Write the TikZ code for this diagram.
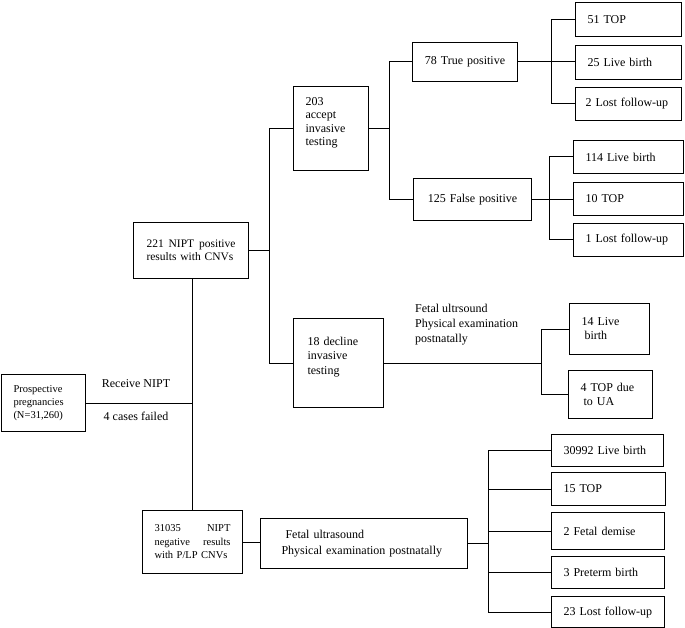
\documentclass[tikz,border=0pt]{standalone}
\usepackage{fontspec}
\setmainfont{Liberation Serif}
\begin{document}
\begin{tikzpicture}[x=1pt,y=-1pt,
  bx/.style={draw, line width=1pt, rectangle, anchor=north west, inner ysep=0pt,
    font=\fontsize{12}{14}\selectfont},
  ln/.style={line width=1pt},
  lbl/.style={font=\fontsize{12}{15}\selectfont, inner sep=0pt}]
\useasboundingbox (0,0) rectangle (685,628);

% left
\node[bx, minimum width=84pt, minimum height=57pt, inner xsep=12pt, text width=60pt, align=left,
  font=\fontsize{10.5}{13}\selectfont] (pp) at (1,374) {Prospective\\pregnancies\\(N=31,260)};
\node[lbl] (rn) at (136,384) {Receive NIPT};
\node[lbl] (cf) at (136,416) {4 cases failed};

% 221 box
\node[bx, minimum width=115pt, minimum height=56pt, inner xsep=13pt, text width=89pt, align=left,
  font=\fontsize{11.5}{13}\selectfont] (n221) at (133,222) {221\hfill NIPT\hfill positive\\results with CNVs};

% 203 and 18
\node[bx, minimum width=75pt, minimum height=84pt, inner xsep=12pt, text width=51pt, align=left,
  font=\fontsize{12}{13.5}\selectfont] (n203) at (293,86) {203\\accept\\invasive\\testing\\\mbox{}};
\node[bx, minimum width=90pt, minimum height=89pt, inner xsep=14pt, text width=62pt, align=left,
  font=\fontsize{12}{14.5}\selectfont] (n18) at (293,318) {18 decline\\invasive\\testing\\\mbox{}};

% true/false positive
\node[bx, minimum width=105pt, minimum height=39pt, inner xsep=4pt, text width=97pt, align=center] (ntp) at (412,42) {78 True positive};
\node[bx, minimum width=118pt, minimum height=42pt, inner xsep=4pt, text width=110pt, align=center] (nfp) at (413,178) {125 False positive};

% top right
\node[bx, minimum width=106pt, minimum height=34pt, inner xsep=10pt, text width=86pt, align=left] (n51) at (575,2) {\hspace*{2pt}51 TOP};
\node[bx, minimum width=106pt, minimum height=34pt, inner xsep=10pt, text width=86pt, align=left] (n25) at (575,45) {\hspace*{2pt}25 Live birth};
\node[bx, minimum width=106pt, minimum height=33pt, inner xsep=10pt, text width=86pt, align=left] (n2l) at (575,87) {\mbox{2 Lost follow-up}};

% middle right
\node[bx, minimum width=110pt, minimum height=33pt, inner xsep=10pt, text width=90pt, align=left] (n114) at (573,140) {\hspace*{2pt}114 Live birth};
\node[bx, minimum width=110pt, minimum height=33pt, inner xsep=10pt, text width=90pt, align=left] (n10) at (573,182) {\hspace*{2pt}10 TOP};
\node[bx, minimum width=110pt, minimum height=33pt, inner xsep=10pt, text width=90pt, align=left] (n1l) at (573,223) {\mbox{\hspace*{2pt}1 Lost follow-up}};

% decline group
\node[lbl, anchor=north west, align=left] (fus) at (415,304) {Fetal ultrsound\\Physical examination\\postnatally};
\node[bx, minimum width=80pt, minimum height=51pt, inner xsep=12pt, text width=56pt, align=left] (n14) at (569,303) {14 Live\\\hspace*{3pt}birth};
\node[bx, minimum width=84pt, minimum height=48pt, inner xsep=12pt, text width=60pt, align=left] (n4) at (568,370) {4 TOP due\\\hspace*{3pt}to UA};

% bottom
\node[bx, minimum width=100pt, minimum height=63pt, inner xsep=12pt, text width=76pt, align=left,
  font=\fontsize{10.5}{13.5}\selectfont] (n31035) at (142,510) {31035\hfill NIPT\\negative\hfill results\\with P/LP CNVs};
\node[bx, minimum width=207pt, minimum height=50pt, inner xsep=21pt, text width=165pt, align=left,
  font=\fontsize{12}{16}\selectfont] (nfu) at (260,518) {\hspace*{4pt}Fetal ultrasound\\Physical examination postnatally};

\node[bx, minimum width=112pt, minimum height=32pt, inner xsep=12pt, text width=88pt, align=left] (n30992) at (551,434) {30992 Live birth};
\node[bx, minimum width=114pt, minimum height=33pt, inner xsep=12pt, text width=90pt, align=left] (n15) at (551,472) {15 TOP};
\node[bx, minimum width=113pt, minimum height=37pt, inner xsep=12pt, text width=89pt, align=left] (nfd) at (551,512) {2 Fetal demise};
\node[bx, minimum width=113pt, minimum height=32pt, inner xsep=12pt, text width=89pt, align=left] (npt) at (551,556) {\\[-6pt]3 Preterm birth};
\node[bx, minimum width=113pt, minimum height=31pt, inner xsep=12pt, text width=89pt, align=left] (nlf) at (551,596) {\\[-4pt]23 Lost follow-up};

% junction coordinates
\coordinate (j1) at (192,403);
\coordinate (j2) at (269,0);
\coordinate (j3) at (389,0);
\coordinate (j4) at (551,0);
\coordinate (j5) at (549,0);
\coordinate (j6) at (541,0);
\coordinate (j7) at (488,0);

% connectors
\draw[ln] (pp.east) -- (pp.east -| j1);
\draw[ln] (j1 |- n221.south) -- (j1 |- n31035.north);

\draw[ln] (n221.east) -- (n221.east -| j2);
\draw[ln] (n203.west) -- (n203.west -| j2) -- (n18.west -| j2) -- (n18.west);

\draw[ln] (n203.east) -- (n203.east -| j3);
\draw[ln] (ntp.west) -- (ntp.west -| j3) -- (nfp.west -| j3) -- (nfp.west);

\draw[ln] (ntp.east) -- (ntp.east -| n25.west);
\draw[ln] (n51.west) -- (n51.west -| j4) -- (n2l.west -| j4) -- (n2l.west);

\draw[ln] (nfp.east) -- (nfp.east -| n10.west);
\draw[ln] (n114.west) -- (n114.west -| j5) -- (n1l.west -| j5) -- (n1l.west);

\draw[ln] (n18.east) -- (n18.east -| j6);
\draw[ln] (n14.west) -- (n14.west -| j6) -- (n4.west -| j6) -- (n4.west);

\draw[ln] (n31035.east) -- (n31035.east -| nfu.west);
\draw[ln] (nfu.east) -- (nfu.east -| j7);
\draw[ln] (n30992.west) -- (n30992.west -| j7) -- (nlf.west -| j7) -- (nlf.west);
\draw[ln] (j7 |- n15.west) -- (n15.west);
\draw[ln] (j7 |- nfd.west) -- (nfd.west);
\draw[ln] (j7 |- npt.west) -- (npt.west);
\end{tikzpicture}
\end{document}
